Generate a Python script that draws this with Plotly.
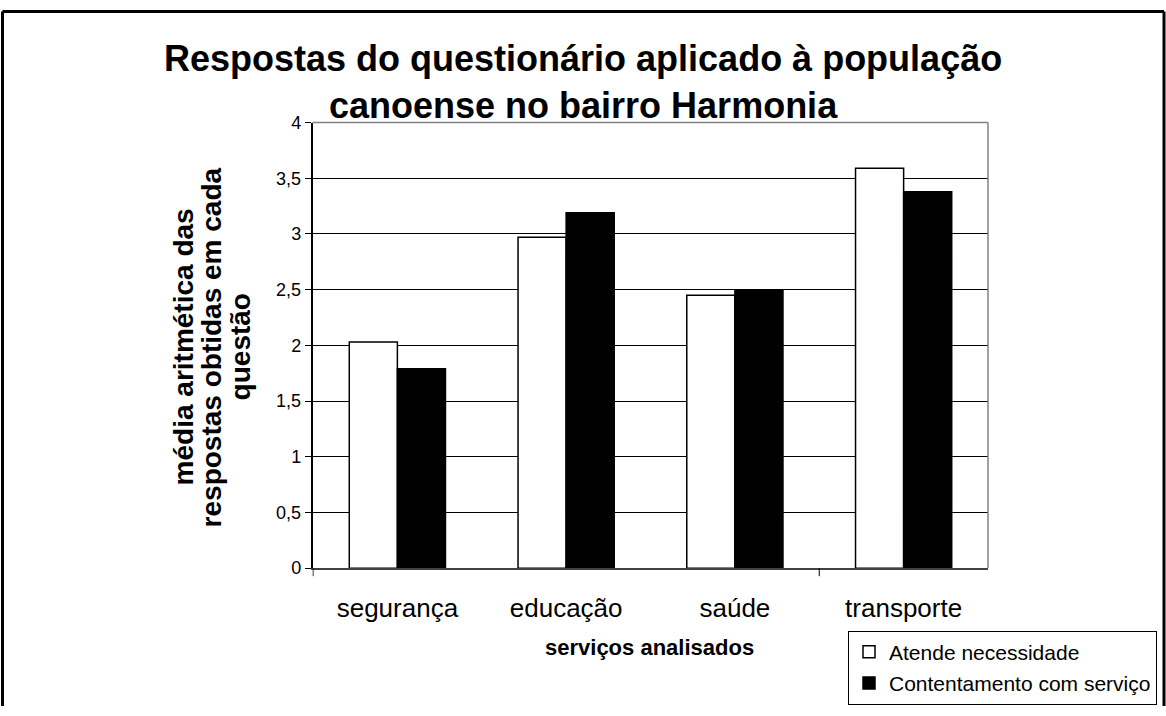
import plotly.graph_objects as go

# Survey answers, mean score per service
categorias = ["segurança", "educação", "saúde", "transporte"]
atende_necessidade = [2.03, 2.97, 2.45, 3.59]
contentamento_servico = [1.79, 3.19, 2.50, 3.38]
y_ticks = [0, 0.5, 1, 1.5, 2, 2.5, 3, 3.5, 4]

W, H = 1166, 716
FONT = "Liberation Sans, Arial, sans-serif"

# vertical placement: rows are given in displayed pixels
V_SCALE, V_OFF = 0.973, 9.3


def px(v):
    return v / W


def py(v):
    return 1 - ((v - V_OFF) / V_SCALE) / H


X0, X1 = 312.5, 988
Y_TOP, Y_BOT = 122, 568

fig = go.Figure()
fig.add_trace(go.Bar(
    name="Atende necessidade", x=categorias, y=atende_necessidade,
    legendgroup="a",
    marker=dict(color="white", line=dict(color="black", width=1.5)),
))
fig.add_trace(go.Bar(
    name="Contentamento com serviço", x=categorias, y=contentamento_servico,
    legendgroup="b",
    marker=dict(color="black", line=dict(color="black", width=1.5)),
))

fig.update_layout(
    width=W, height=H,
    margin=dict(l=0, r=0, t=0, b=0),
    paper_bgcolor="white", plot_bgcolor="white",
    separators=",.",
    barmode="group", bargap=0.43, bargroupgap=0,
    font=dict(family=FONT, color="black"),
    showlegend=True,
    legend=dict(
        x=px(848), y=1.5 / H, xanchor="left", yanchor="bottom",
        bordercolor="black", borderwidth=1, bgcolor="white",
        font=dict(size=21, family=FONT, color="black"),
        traceorder="grouped", tracegroupgap=1,
    ),
    xaxis=dict(
        domain=[px(X0), px(X1)],
        showline=True, linecolor="#404040", linewidth=1.5,
        ticks="", showgrid=False,
        tickfont=dict(size=26, family=FONT, color="black"),
        ticklabelstandoff=16,
    ),
    yaxis=dict(
        domain=[py(Y_BOT), py(Y_TOP)],
        range=[0, 4], tickvals=y_ticks,
        showline=True, linecolor="black", linewidth=1.5,
        ticks="outside", ticklen=6, tickcolor="black", tickwidth=1,
        showgrid=True, gridcolor="black", gridwidth=1,
        zeroline=False,
        tickfont=dict(size=18, family=FONT, color="black"),
    ),
)

# Outer frame of the chart (top, left and right edges)
frame = [(2.5, 1.5, 1164, 1.5), (2.5, 1.5, 2.5, H), (1164, 1.5, 1164, H)]
for fx0, fy0, fx1, fy1 in frame:
    fig.add_shape(type="line", xref="paper", yref="paper",
                  x0=px(fx0), y0=1 - fy0 / H, x1=px(fx1), y1=1 - fy1 / H,
                  line=dict(color="black", width=3), layer="above")
# Plot-area border (top and right sides)
fig.add_shape(type="line", xref="paper", yref="paper",
              x0=px(X0), x1=px(X1), y0=py(Y_TOP), y1=py(Y_TOP),
              line=dict(color="#808080", width=1.5), layer="above")
fig.add_shape(type="line", xref="paper", yref="paper",
              x0=px(X1), x1=px(X1), y0=py(Y_TOP), y1=py(Y_BOT),
              line=dict(color="#808080", width=1.5), layer="above")
# Category-axis tick marks (every third boundary)
for b in (-0.5, 2.5):
    fig.add_shape(type="line", xref="x", yref="paper",
                  x0=b, x1=b, y0=py(Y_BOT), y1=py(Y_BOT + 8),
                  line=dict(color="black", width=1), layer="above")

# Title
fig.add_annotation(
    text="<b>Respostas do questionário aplicado à população<br>canoense no bairro Harmonia</b>",
    xref="paper", yref="paper", x=px(583), y=py(81),
    xanchor="center", yanchor="middle", showarrow=False,
    font=dict(size=36, family=FONT, color="black"),
)

# Y-axis title, one annotation per line
y_title_lines = [("média aritmética das", 183), ("respostas obtidas em cada", 211), ("questão", 240)]
for txt, xc in y_title_lines:
    fig.add_annotation(
        text=f"<b>{txt}</b>", textangle=-90,
        xref="paper", yref="paper", x=px(xc), y=py(347),
        xanchor="center", yanchor="middle", showarrow=False,
        font=dict(size=28, family=FONT, color="black"),
    )

# X-axis title
fig.add_annotation(
    text="<b>serviços analisados</b>",
    xref="paper", yref="paper", x=px(650), y=py(647),
    xanchor="center", yanchor="middle", showarrow=False,
    font=dict(size=22, family=FONT, color="black"),
)

fig.write_html("out.html")
